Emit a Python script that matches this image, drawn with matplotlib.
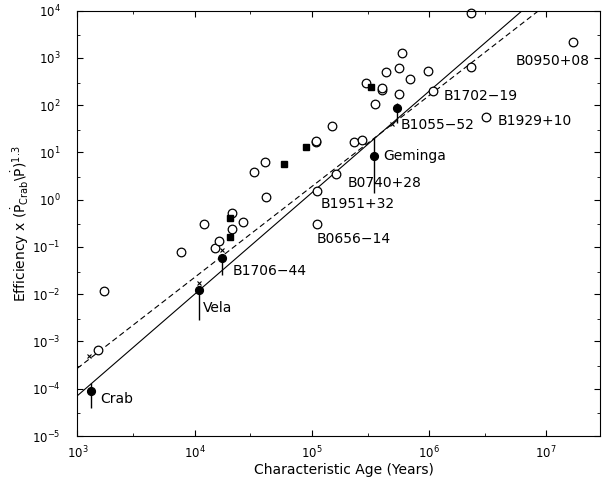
import numpy as np
import matplotlib.pyplot as plt
from matplotlib.ticker import LogLocator, NullFormatter

plt.rcParams['font.family'] = 'DejaVu Sans'
plt.rcParams['mathtext.fontset'] = 'dejavusans'

# open circles: characteristic age (yr), scaled efficiency
open_age = [1490, 1700, 7600, 1.2e4, 1.5e4, 1.62e4, 2.1e4, 2.1e4, 2.6e4, 3.2e4,
            4.0e4, 4.1e4, 1.09e5, 1.09e5, 1.1e5, 1.1e5, 1.5e5, 1.6e5, 2.3e5, 2.7e5,
            2.9e5, 3.5e5, 4.0e5, 4.0e5, 4.3e5, 5.56e5, 5.6e5, 5.87e5, 6.9e5, 9.9e5,
            1.09e6, 2.27e6, 2.27e6, 3.07e6, 1.69e7]
open_eff = [6.6e-4, 0.0116, 0.078, 0.30, 0.097, 0.133, 0.24, 0.51, 0.34, 3.8,
            6.3, 1.15, 16.3, 17.5, 1.52, 0.30, 36, 3.5, 16.8, 18.2,
            297, 105, 205, 225, 507, 608, 169, 1280, 356, 533,
            198, 647, 9000, 55, 2120]

# filled squares
sq_age = [2.0e4, 2.0e4, 5.8e4, 8.9e4, 3.2e5]
sq_eff = [0.164, 0.40, 5.7, 13.2, 244]

# filled circles with error bars (Crab, Vela, B1706-44, Geminga, B1055-52)
dot_age = [1300, 1.1e4, 1.7e4, 3.4e5, 5.3e5]
dot_eff = [8.9e-5, 0.0122, 0.057, 8.4, 85]
dot_lo = [4.0e-5, 2.9e-3, 0.025, 1.38, 41.7]
dot_hi = [1.34e-4, 0.0122, 0.057, 20, 110]

# small x marks
x_age = [1265, 1.1e4, 1.7e4, 4.8e5]
x_eff = [5.0e-4, 0.0176, 0.084, 40.6]

# fitted power laws: eff = A * (age/1e3)**b
fit_solid = (7.1e-5, 2.146)
fit_dashed = (2.7e-4, 1.922)

names = ['Crab', 'Vela', 'B1706−44', 'B0656−14', 'B1951+32', 'B0740+28',
         'Geminga', 'B1055−52', 'B1702−19', 'B1929+10', 'B0950+08']
name_x = [1563, 1.19e4, 2.1e4, 1.1e5, 1.19e5, 2.03e5, 4.08e5, 5.78e5, 1.33e6, 3.86e6, 5.5e6]
name_y = [5.96e-5, 5.0e-3, 0.0308, 0.147, 0.806, 2.21, 8.36, 37.8, 155, 46.7, 855]

fig = plt.figure(figsize=(6.03, 4.82), dpi=100)
ax = fig.add_axes([0.1282, 0.0954, 0.8668, 0.8828])

ages = np.logspace(3, np.log10(3e7), 300)
A, b = fit_solid
ax.plot(ages, A * (ages / 1e3) ** b, 'k-', lw=0.8)
A, b = fit_dashed
ax.plot(ages, A * (ages / 1e3) ** b, 'k--', lw=0.8, dashes=(5, 3))

ax.vlines(dot_age, dot_lo, dot_hi, colors='k', lw=1.0)
ax.plot(open_age, open_eff, 'o', mfc='white', mec='k', ms=6.2, mew=0.9, ls='none', clip_on=False)
ax.plot(sq_age, sq_eff, 's', color='k', ms=4.6, ls='none')
ax.plot(dot_age, dot_eff, 'o', color='k', ms=5.6, ls='none')
ax.plot(x_age, x_eff, 'x', color='k', ms=3, mew=0.8, ls='none')

for t, tx, ty in zip(names, name_x, name_y):
    ax.text(tx, ty, t, fontsize=10, ha='left', va='center')

ax.set_xscale('log')
ax.set_yscale('log')
ax.set_xlim(1e3, 2.88e7)
ax.set_ylim(1e-5, 1e4)

for axis in (ax.xaxis, ax.yaxis):
    axis.set_major_locator(LogLocator(base=10, numticks=20))
    axis.set_minor_locator(LogLocator(base=10, subs=[3], numticks=20))
    axis.set_minor_formatter(NullFormatter())
ax.tick_params(which='both', direction='in', top=True, right=True, labelsize=8.5)
ax.tick_params(which='major', length=4)
ax.tick_params(which='minor', length=2.5)
ax.tick_params(axis='y', pad=12)
ax.tick_params(axis='x', pad=6)

ax.set_xlabel('Characteristic Age (Years)', fontsize=10)
ax.set_ylabel(r'Efficiency x $(\dot{\mathrm{P}}_{\mathrm{Crab}}\backslash\dot{\mathrm{P}})^{1.3}$', fontsize=10)
ax.xaxis.set_label_coords(0.511, -0.064)
ax.yaxis.set_label_coords(-0.088, 0.5)

fig.savefig('out.png', dpi=100)
